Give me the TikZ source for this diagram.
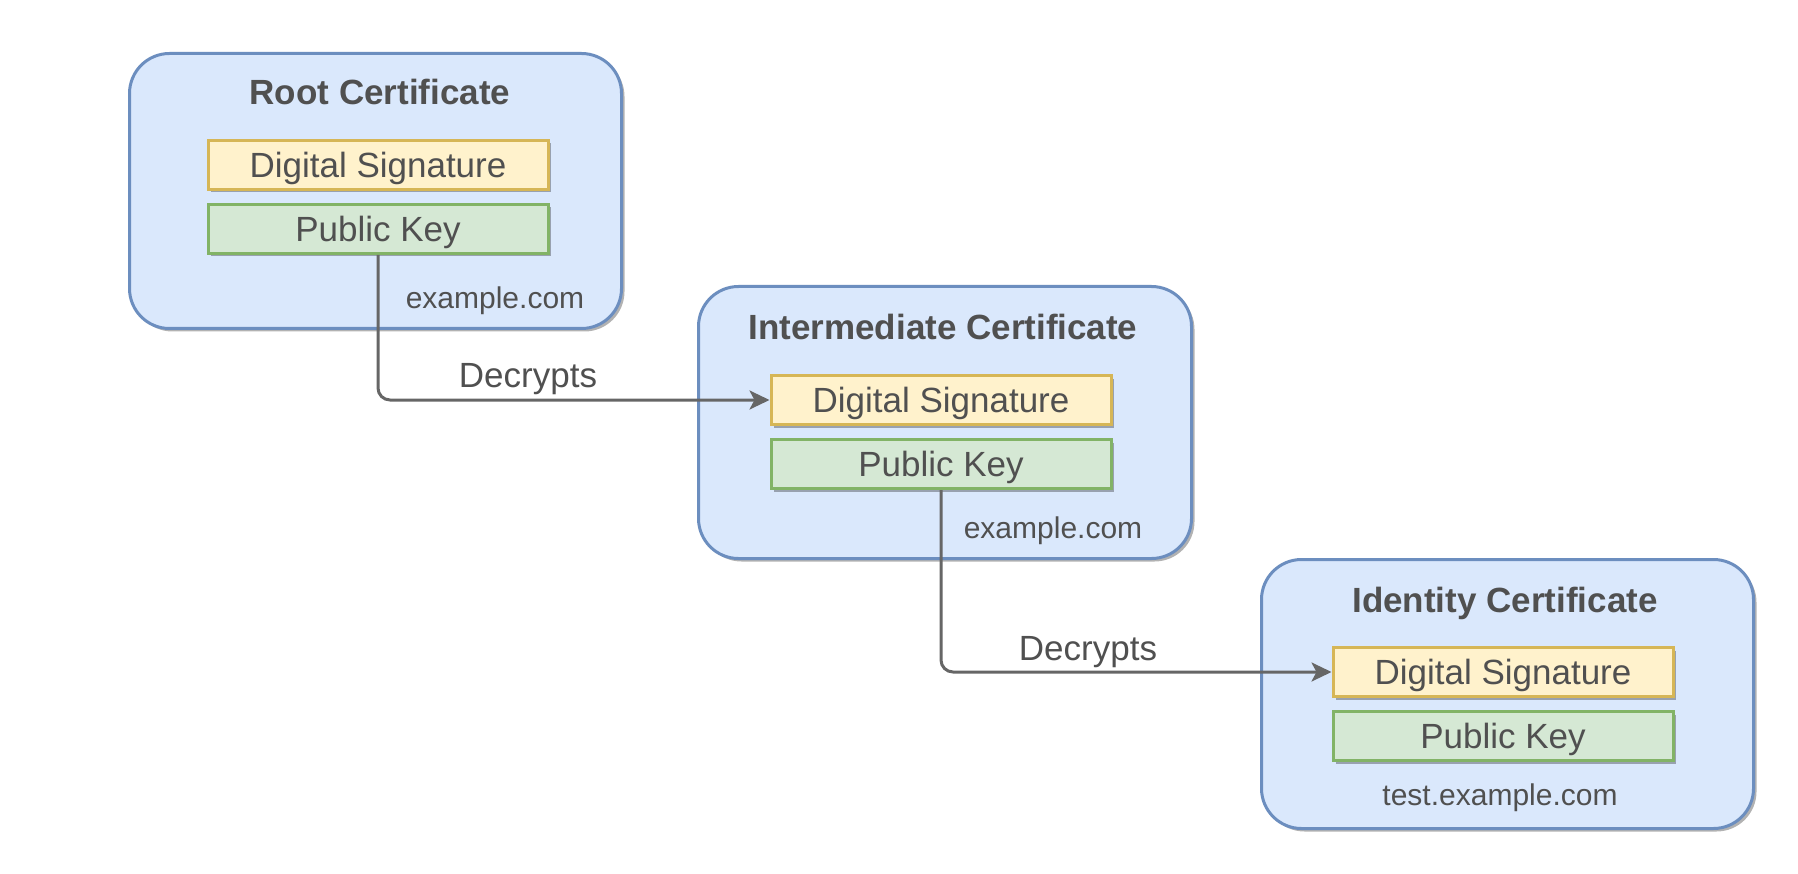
\documentclass[tikz,border=0pt]{standalone}
\usepackage{fontspec}
\setmainfont{Liberation Sans}
\usetikzlibrary{arrows.meta,shadows}
\definecolor{certfill}{HTML}{DAE8FC}
\definecolor{certdraw}{HTML}{6C8EBF}
\definecolor{sigfill}{HTML}{FFF2CC}
\definecolor{sigdraw}{HTML}{D6B656}
\definecolor{keyfill}{HTML}{D5E8D4}
\definecolor{keydraw}{HTML}{82B366}
\definecolor{txt}{HTML}{505050}
\definecolor{conn}{HTML}{666666}
\begin{document}
\begin{tikzpicture}[x=1pt,y=-1pt,
  shd/.style={drop shadow={shadow xshift=3pt,shadow yshift=-3pt,opacity=0.3,fill=black}},
  cert/.style={draw=certdraw,fill=certfill,line width=3pt,rounded corners=40pt,anchor=north west,shd},
  field/.style={line width=3pt,minimum width=340pt,minimum height=49pt,inner sep=0pt,text=txt,
    text depth=0pt,font=\fontsize{35}{42}\selectfont,shd},
  sig/.style={field,draw=sigdraw,fill=sigfill},
  pkey/.style={field,draw=keydraw,fill=keyfill},
  ttl/.style={inner sep=0pt,text=txt,text depth=0pt,font=\fontsize{35}{42}\selectfont\bfseries},
  dom/.style={inner sep=0pt,text=txt,text depth=0pt,font=\fontsize{30}{36}\selectfont},
  lbl/.style={inner sep=0pt,text=txt,text depth=0pt,font=\fontsize{35}{42}\selectfont},
  link/.style={draw=conn,line width=3pt,rounded corners=12pt,-{Stealth[length=20pt,width=19pt,inset=5pt]}}
]
\useasboundingbox (0,0) rectangle (1798,874);
\fill[white] (0,0) rectangle (1798,874);

% Root
\node[cert,minimum width=492pt,minimum height=275pt] (root) at (128,52) {};
\node[ttl] (roott) at (380,92) {Root Certificate};
\node[sig] (ds1) at (378,165) {Digital Signature};
\node[pkey] (pk1) at (378,229) {Public Key};
\node[dom] (dom1) at (495,298) {example.com};

% Intermediate
\node[cert,minimum width=493pt,minimum height=272pt] (inter) at (697,285) {};
\node[ttl] (intert) at (943,327) {Intermediate Certificate};
\node[sig] (ds2) at (941,400) {Digital Signature};
\node[pkey] (pk2) at (941,464) {Public Key};
\node[dom] (dom2) at (1053,528) {example.com};

% Identity
\node[cert,minimum width=492pt,minimum height=269pt] (ident) at (1260,558) {};
\node[ttl] (identt) at (1505,600) {Identity Certificate};
\node[sig] (ds3) at (1503,672) {Digital Signature};
\node[pkey] (pk3) at (1503,736) {Public Key};
\node[dom] (dom3) at (1500,795) {test.example.com};

% Connectors
\draw[link] (pk1.south) |- (ds2.west);
\node[lbl] (dec1) at (528,375) {Decrypts};
\draw[link] (pk2.south) |- (ds3.west);
\node[lbl] (dec2) at (1088,648) {Decrypts};
\end{tikzpicture}
\end{document}
